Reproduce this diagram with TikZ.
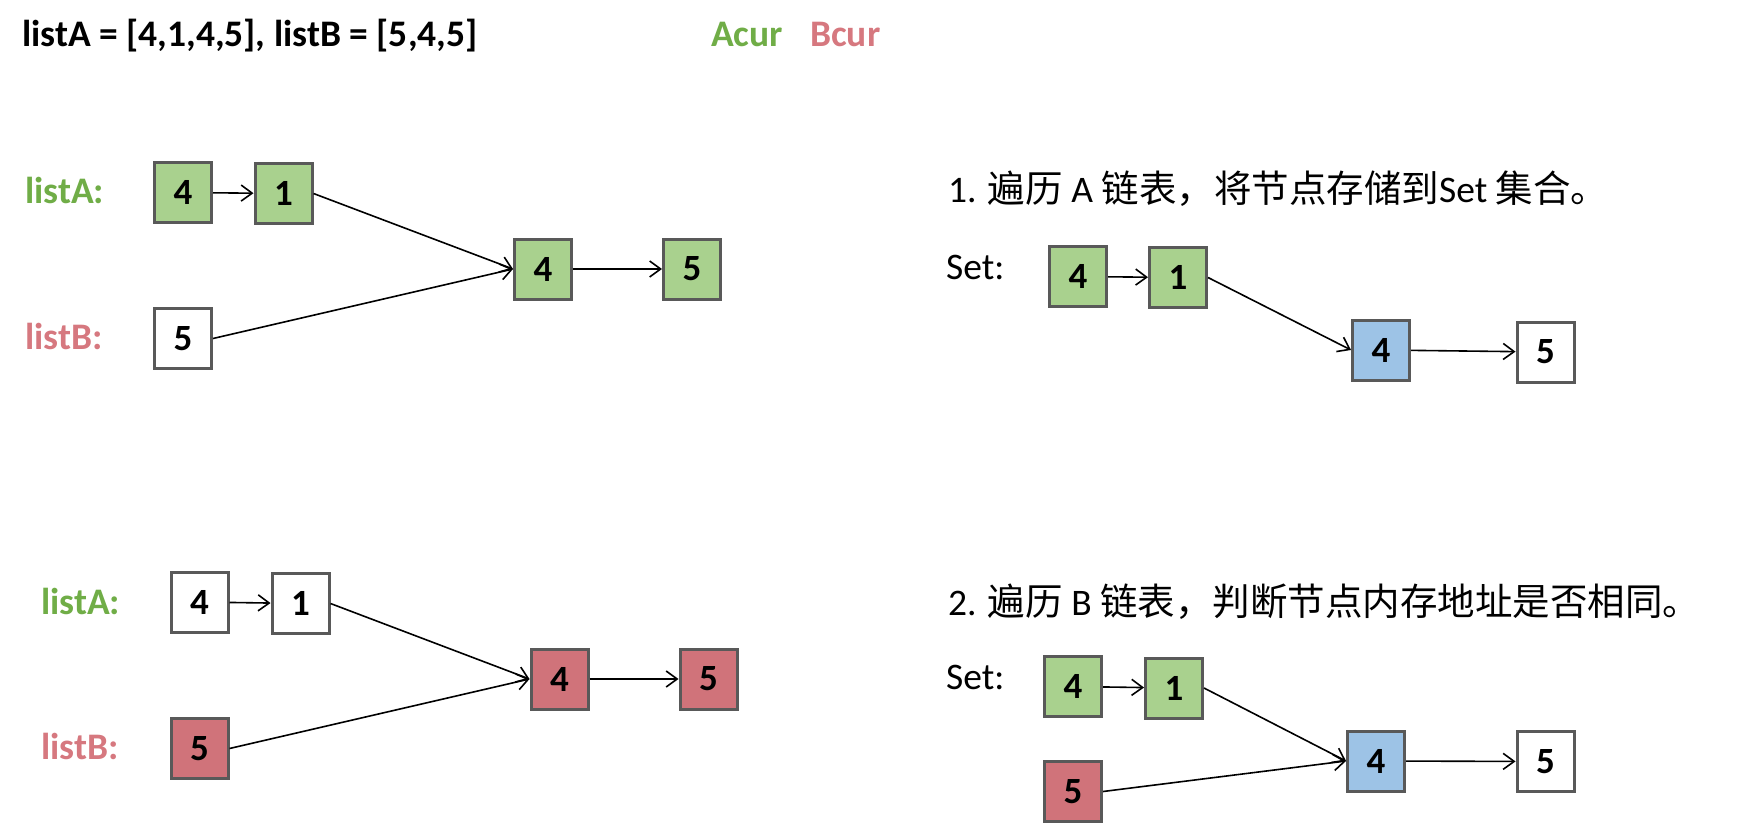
\documentclass[tikz,border=0pt]{standalone}
\usepackage{fontspec}
\setmainfont{Carlito}
\newfontfamily\cjk{Noto Sans CJK SC}
\usetikzlibrary{arrows.meta}

\definecolor{nodegreen}{HTML}{A9D18E}
\definecolor{nodered}{HTML}{D0737A}
\definecolor{nodeblue}{HTML}{9DC3E6}
\definecolor{nodeedge}{HTML}{595959}
\definecolor{textgreen}{HTML}{70AD47}
\definecolor{textred}{HTML}{D6787F}

\tikzset{
  listnode/.style={rectangle, draw=nodeedge, line width=3pt, fill=white,
    minimum width=57pt, minimum height=60pt, inner sep=0pt,
    font=\fontsize{37}{40}\selectfont\bfseries},
  greennode/.style={listnode, fill=nodegreen},
  rednode/.style={listnode, fill=nodered},
  bluenode/.style={listnode, fill=nodeblue},
}

\begin{document}
\begin{tikzpicture}[x=1pt, y=-1pt]
      \useasboundingbox (0,0) rectangle (1747,837);
      \begin{scope}[every node/.style={anchor=base west, inner sep=0pt,
          font=\fontsize{37.5}{42}\selectfont\bfseries}]
        \node (title) at (22, 47) {listA = [4,1,4,5], listB = [5,4,5]};
        \node[text=textgreen] (acur) at (711, 47) {Acur};
        \node[text=textred] (bcur) at (810, 47) {Bcur};
        \node[text=textgreen] (la1) at (25, 204) {listA:};
        \node[text=textred] (lb1) at (25, 349) {listB:};
        \node[text=textgreen] (la2) at (41, 614) {listA:};
        \node[text=textred] (lb2) at (41, 759) {listB:};
      \end{scope}
      \begin{scope}[every node/.style={anchor=base west, inner sep=0pt,
          font=\fontsize{37.5}{42}\selectfont}]
        \node (step1) at (948, 203) {1. {\cjk 遍历} A {\cjk 链表，将节点存储到}Set {\cjk 集合。}};
        \node (set1) at (946, 279) {Set:};
        \node (step2) at (948, 615) {2. {\cjk 遍历} B {\cjk 链表，判断节点内存地址是否相同。}};
        \node (set2) at (946, 689) {Set:};
      \end{scope}
      % upper left: listA and listB
      \node[greennode] (a4) at (183, 192.5) {4};
      \node[greennode] (a1) at (283.5, 193.5) {1};
      \node[greennode] (c4) at (543, 269) {4};
      \node[greennode] (c5) at (692, 269) {5};
      \node[listnode] (b5) at (183, 338.5) {5};
      % lower left
      \node[listnode] (a4b) at (199.5, 602) {4};
      \node[listnode] (a1b) at (300.5, 603.5) {1};
      \node[rednode] (c4b) at (559.5, 679) {4};
      \node[rednode] (c5b) at (708.5, 679) {5};
      \node[rednode] (b5b) at (199.5, 748.5) {5};
      % upper right: set after listA
      \node[greennode] (s4) at (1078, 276.5) {4};
      \node[greennode] (s1) at (1178, 277.5) {1};
      \node[bluenode] (t4) at (1381, 350) {4};
      \node[listnode] (t5) at (1545.5, 352) {5};
      % lower right: checking listB
      \node[greennode] (s4b) at (1073, 686.5) {4};
      \node[greennode] (s1b) at (1174, 688) {1};
      \node[rednode] (r5b) at (1073, 791.5) {5};
      \node[bluenode] (t4b) at (1376, 761) {4};
      \node[listnode] (t5b) at (1545.5, 761.5) {5};
      \begin{scope}[>={Straight Barb[length=11pt, width=16pt]}, line width=1.6pt]
        \path [->] (a4) edge (a1);
        \path [->] (a1.east) edge (c4.west);
        \path [->] (b5.east) edge (c4.west);
        \path [->] (c4) edge (c5);
        \path [->] (a4b) edge (a1b);
        \path [->] (a1b.east) edge (c4b.west);
        \path [->] (b5b.east) edge (c4b.west);
        \path [->] (c4b) edge (c5b);
        \path [->] (s4) edge (s1);
        \path [->] (s1.east) edge (t4.west);
        \path [->] (t4) edge (t5);
        \path [->] (s4b) edge (s1b);
        \path [->] (s1b.east) edge (t4b.west);
        \path [->] (r5b.east) edge (t4b.west);
        \path [->] (t4b) edge (t5b);
      \end{scope}
    \end{tikzpicture}
\end{document}
